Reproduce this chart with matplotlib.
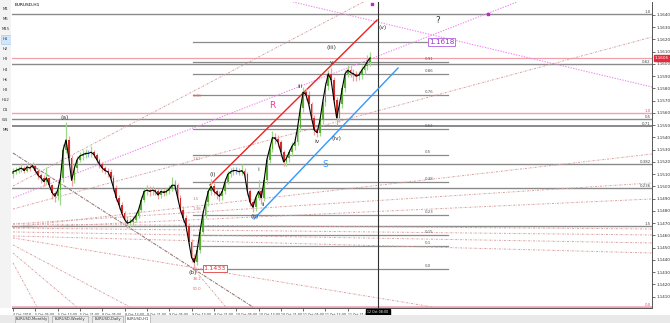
import matplotlib
matplotlib.use("Agg")
import matplotlib.pyplot as plt
import matplotlib.transforms as mtransforms

# ---------------- data ----------------
first_open = 1.1510
closes = [
    1.1512, 1.1513, 1.1514, 1.1515, 1.1513, 1.1516, 1.1515, 1.1517, 1.1513, 1.1509,
    1.1507, 1.1504, 1.1507, 1.1501, 1.1495, 1.1492, 1.1497, 1.1507, 1.1530, 1.1538,
    1.1523, 1.1505, 1.1515, 1.1522, 1.1525, 1.1526, 1.1527, 1.1527, 1.1528, 1.1526,
    1.1522, 1.1518, 1.1515, 1.1513, 1.1512, 1.1507, 1.1499, 1.1491, 1.1485, 1.1478,
    1.1473, 1.1470, 1.1471, 1.1473, 1.1476, 1.1481, 1.1489, 1.1496, 1.1497, 1.1496,
    1.1497, 1.1496, 1.1493, 1.1496, 1.1495, 1.1496, 1.1498, 1.1501, 1.1501, 1.1491,
    1.1481, 1.1474, 1.1468, 1.1455, 1.1442, 1.1438, 1.1448, 1.1463, 1.1477, 1.1487,
    1.1496, 1.1500, 1.1496, 1.1494, 1.1492, 1.1496, 1.1504, 1.1510, 1.1512, 1.1513,
    1.1513, 1.1512, 1.1513, 1.1510, 1.1496, 1.1487, 1.1483, 1.1491, 1.1496, 1.1491,
    1.1505, 1.1522, 1.1531, 1.1540, 1.1539, 1.1536, 1.1528, 1.1520, 1.1523, 1.1528,
    1.1533, 1.1536, 1.1548, 1.1564, 1.1577, 1.1575, 1.1567, 1.1556, 1.1546, 1.1544,
    1.1554, 1.1569, 1.1582, 1.1592, 1.1587, 1.1571, 1.1556, 1.1567, 1.1580, 1.1592,
    1.1595, 1.1593, 1.1592, 1.1590, 1.1591, 1.1595, 1.1598, 1.1602, 1.1605]
highs = [
    1.1515, 1.1516, 1.1517, 1.1519, 1.1517, 1.1519, 1.1518, 1.1520, 1.1518, 1.1514,
    1.1511, 1.1509, 1.1516, 1.1508, 1.1502, 1.1496, 1.1499, 1.1510, 1.1535, 1.1553,
    1.1541, 1.1526, 1.1518, 1.1525, 1.1528, 1.1530, 1.1531, 1.1530, 1.1533, 1.1530,
    1.1527, 1.1523, 1.1520, 1.1517, 1.1515, 1.1514, 1.1509, 1.1501, 1.1493, 1.1487,
    1.1480, 1.1476, 1.1474, 1.1476, 1.1479, 1.1484, 1.1492, 1.1499, 1.1501, 1.1500,
    1.1500, 1.1499, 1.1498, 1.1499, 1.1498, 1.1499, 1.1501, 1.1508, 1.1505, 1.1503,
    1.1493, 1.1484, 1.1477, 1.1470, 1.1457, 1.1445, 1.1451, 1.1466, 1.1480, 1.1490,
    1.1499, 1.1506, 1.1503, 1.1498, 1.1496, 1.1499, 1.1507, 1.1513, 1.1515, 1.1516,
    1.1516, 1.1515, 1.1518, 1.1515, 1.1512, 1.1498, 1.1489, 1.1494, 1.1505, 1.1498,
    1.1508, 1.1525, 1.1534, 1.1545, 1.1544, 1.1542, 1.1538, 1.1530, 1.1526, 1.1531,
    1.1536, 1.1540, 1.1551, 1.1567, 1.1581, 1.1580, 1.1578, 1.1569, 1.1558, 1.1548,
    1.1557, 1.1572, 1.1585, 1.1595, 1.1597, 1.1589, 1.1573, 1.1570, 1.1583, 1.1595,
    1.1599, 1.1598, 1.1596, 1.1594, 1.1594, 1.1598, 1.1601, 1.1607, 1.1610]
lows = [
    1.1507, 1.1510, 1.1511, 1.1512, 1.1511, 1.1512, 1.1513, 1.1514, 1.1511, 1.1506,
    1.1503, 1.1500, 1.1502, 1.1498, 1.1490, 1.1487, 1.1489, 1.1485, 1.1504, 1.1527,
    1.1519, 1.1500, 1.1503, 1.1512, 1.1520, 1.1522, 1.1523, 1.1524, 1.1524, 1.1523,
    1.1519, 1.1515, 1.1512, 1.1510, 1.1508, 1.1504, 1.1496, 1.1488, 1.1482, 1.1475,
    1.1469, 1.1466, 1.1467, 1.1468, 1.1471, 1.1474, 1.1479, 1.1487, 1.1493, 1.1492,
    1.1493, 1.1493, 1.1490, 1.1491, 1.1492, 1.1493, 1.1494, 1.1496, 1.1497, 1.1488,
    1.1478, 1.1471, 1.1464, 1.1452, 1.1438, 1.1433, 1.1436, 1.1446, 1.1461, 1.1474,
    1.1484, 1.1493, 1.1493, 1.1490, 1.1488, 1.1489, 1.1494, 1.1502, 1.1508, 1.1509,
    1.1510, 1.1509, 1.1509, 1.1507, 1.1493, 1.1484, 1.1479, 1.1480, 1.1489, 1.1486,
    1.1488, 1.1502, 1.1519, 1.1528, 1.1535, 1.1532, 1.1524, 1.1517, 1.1517, 1.1520,
    1.1525, 1.1530, 1.1534, 1.1546, 1.1561, 1.1571, 1.1563, 1.1552, 1.1542, 1.1540,
    1.1541, 1.1551, 1.1566, 1.1579, 1.1583, 1.1567, 1.1550, 1.1553, 1.1564, 1.1577,
    1.1589, 1.1589, 1.1586, 1.1586, 1.1587, 1.1588, 1.1592, 1.1595, 1.1598]

time_labels = ["4 Oct 2018", "5 Oct 05:00", "5 Oct 13:00", "5 Oct 21:00",
               "8 Oct 05:00", "8 Oct 13:00", "8 Oct 21:00", "9 Oct 05:00",
               "9 Oct 13:00", "9 Oct 21:00", "10 Oct 05:00", "10 Oct 13:00",
               "10 Oct 21:00", "11 Oct 05:00", "11 Oct 13:00", "11 Oct 21:00"]
bars_per_label = 8
cursor_bar = 130.8
cursor_label = "12 Oct 08:00"

price_ticks = [1.1410, 1.1420, 1.1430, 1.1440, 1.1450, 1.1460, 1.1470, 1.1480,
               1.1490, 1.1500, 1.1510, 1.1520, 1.1530, 1.1540, 1.1550, 1.1560,
               1.1570, 1.1580, 1.1590, 1.1600, 1.1610, 1.1620, 1.1630, 1.1640]

# full-width grey levels and their labels
grey_levels = [1.16408, 1.16000, 1.15551, 1.15494, 1.15184, 1.14988, 1.14678]
grey_labels = ["1.0", "0.62", "0.5", "0.71", "0.382", "0.236", "1.5"]
pink_levels = [1.15600, 1.14016]
pink_labels = ["1.0", "0.0"]

# fibo from (b) low to target
fib_low, fib_high = 1.1433, 1.1618
fib_ratios = [0.0, 0.1, 0.15, 0.236, 0.382, 0.5, 0.618, 0.764, 0.86, 0.91, 1.0]
fib_texts = ["0.0", "0.1", "0.15", "0.23", "0.38", "0.5", "0.62", "0.76", "0.86", "0.91", ""]
fib_start_bar, fib_end_bar = 64.5, 156.0

# channel lines (bar0, price0, bar1, price1)
r_line = (70.6, 1.15012, 130.5, 1.16359)
s_line = (86.4, 1.14735, 138.0, 1.15967)

# dotted tool lines (bar0, price0, bar1, price1)
violet_lines = [(0.0, 1.14906, 180.6, 1.16506), (97.5, 1.16522, 229.0, 1.15812)]
rose_lines = [(0.0, 1.15004, 126.9, 1.16522), (0.0, 1.14816, 229.0, 1.16220),
              (0.0, 1.14580, 150.5, 1.14016),
              (0.0, 1.14669, 229.0, 1.15265), (0.0, 1.14694, 229.0, 1.15029),
              (0.0, 1.14661, 229.0, 1.14898), (0.0, 1.14694, 229.0, 1.14653),
              (0.0, 1.14661, 229.0, 1.14604), (0.0, 1.14629, 229.0, 1.14539),
              (0.0, 1.14596, 229.0, 1.14457),
              (0.0, 1.14523, 41.9, 1.14016), (0.0, 1.14457, 22.9, 1.14016),
              (0.0, 1.14376, 8.6, 1.14016), (64.5, 1.14335, 76.3, 1.14016)]
dark_lines = [(0.0, 1.15273, 86.0, 1.14016)]

wave_labels = ["(a)", "(b)", "(i)", "(ii)", "i", "ii", "iii", "iv", "v",
               "(iii)", "(iv)", "(v)"]
wave_bars = [18.6, 64.5, 71.7, 86.7, 87.8, 89.6, 102.9, 109.0, 114.0, 114.0, 116.1, 132.6]
wave_prices = [1.15567, 1.14294, 1.15094, 1.14751, 1.15135, 1.14849, 1.15820,
               1.15371, 1.16016, 1.16131, 1.15388, 1.16294]

fan_texts = ["1.62", "1.5", "1.38", "38.2", "50.0", "1.38"]
fan_bars = [64.2, 64.2, 64.5, 64.5, 64.5, 64.5]
fan_prices = [1.15225, 1.14898, 1.14816, 1.14245, 1.14163, 1.15735]

markers_bar = [170.3, 128.7]
markers_price = [1.16408, 1.16490]

timeframes = ["M1", "M5", "M15", "H1", "H2", "H3", "H4", "H6", "H8", "H12", "D1", "W1", "MN"]
tabs = ["EURUSD,Monthly", "EURUSD,Weekly", "EURUSD,Daily", "EURUSD,H1"]

# ---------------- figure ----------------
W, H = 670, 323
fig = plt.figure(figsize=(W / 100, H / 100), dpi=100)
fig.patch.set_facecolor("white")
ax = fig.add_axes([12 / W, 15 / H, 640 / W, 306 / H])
ax.set_xlim(-0.36, 229.03)
ax.set_ylim(1.14008, 1.16506)
ax.set_facecolor("white")

n = len(closes)
opens = [first_open] + closes[:-1]
xs = list(range(n))

# horizontal levels
for lv, lb in zip(grey_levels, grey_labels):
    ax.axhline(lv, color="#8a8a8a", lw=1.0 if lb != "0.71" else 1.4, zorder=1)
    ax.text(228.6, lv, lb, fontsize=2.8, color="#444444", ha="right", va="bottom", zorder=5)
for lv, lb in zip(pink_levels, pink_labels):
    ax.axhline(lv, color="#f2a0b0", lw=1.0 if lb != "0.0" else 1.8, zorder=1)
    ax.text(228.6, lv, lb, fontsize=2.8, color="#e05070", ha="right", va="bottom", zorder=5)
ax.axhline(closes[-1], color="#f0a0a8", lw=0.9, zorder=1)

for r, t in zip(fib_ratios, fib_texts):
    p = fib_low + r * (fib_high - fib_low)
    ax.plot([fib_start_bar, fib_end_bar], [p, p], color="#8a8a8a", lw=0.9, zorder=1)
    if t:
        ax.text(fib_end_bar - 8.5, p + 0.00008, t, fontsize=2.8, color="#555555",
                ha="left", va="bottom", zorder=5)

# dotted tool lines
for b0, p0, b1, p1 in violet_lines:
    ax.plot([b0, b1], [p0, p1], color="#f08af0", lw=0.8, ls=(0, (1.2, 1.2)), zorder=1)
for b0, p0, b1, p1 in rose_lines:
    ax.plot([b0, b1], [p0, p1], color="#d8a0a0", lw=0.7, ls=(0, (2, 1.2, 0.6, 1.2)), zorder=1)
for b0, p0, b1, p1 in dark_lines:
    ax.plot([b0, b1], [p0, p1], color="#9a7a7a", lw=0.8, ls=(0, (3, 1, 1, 1)), zorder=1)

# channel
ax.plot([r_line[0], r_line[2]], [r_line[1], r_line[3]], color="#ee2222", lw=1.0, zorder=3)
ax.plot([s_line[0], s_line[2]], [s_line[1], s_line[3]], color="#3399ff", lw=1.0, zorder=3)

# cursor line
ax.axvline(cursor_bar, color="#303030", lw=0.8, zorder=2)

# candles
for i in xs:
    o, c, h, l = opens[i], closes[i], highs[i], lows[i]
    if c > o:
        body, wick = "#55b030", "#9fd88a"
    elif c < o:
        body, wick = "#d42a2a", "#f0a0a0"
    else:
        body, wick = "#4a6cf0", "#8fa8f8"
    ax.vlines(i, l, h, color=wick, lw=0.9, zorder=4)
    ax.bar(i, max(abs(c - o), 0.00005), bottom=min(o, c), width=0.62,
           color=body, linewidth=0, zorder=5)
ax.plot(xs, closes, color="black", lw=0.8, zorder=6)

# wave labels
for t, b, p in zip(wave_labels, wave_bars, wave_prices):
    ax.text(b, p, t, fontsize=4.3, color="#333333", ha="center", va="center", zorder=7)
for t, b, p in zip(fan_texts, fan_bars, fan_prices):
    ax.text(b, p, t, fontsize=2.8, color="#d07070", ha="left", va="center", zorder=7)

ax.text(92.8, 1.15665, "R", fontsize=6.5, color="#ff3399", ha="center", va="center", zorder=7)
ax.text(111.8, 1.15176, "S", fontsize=6.5, color="#3399ff", ha="center", va="center", zorder=7)
ax.text(152.3, 1.16351, "?", fontsize=6.5, color="#333333", ha="center", va="center", zorder=7)

ax.text(149.0, fib_high, "1.1618", fontsize=5.2, color="#9933cc", ha="left", va="center",
        zorder=8, bbox=dict(boxstyle="square,pad=0.15", fc="white", ec="#b060e0", lw=0.6))
ax.text(68.3, fib_low, "1.1433", fontsize=4.6, color="#e03030", ha="left", va="center",
        zorder=8, bbox=dict(boxstyle="square,pad=0.15", fc="white", ec="#e04040", lw=0.6))
ax.scatter(markers_bar, markers_price, marker="s", s=3, color="#cc22cc", zorder=8)

# axes / ticks
for sp in ["top", "left"]:
    ax.spines[sp].set_visible(False)
for sp in ["right", "bottom"]:
    ax.spines[sp].set_color("#555555")
    ax.spines[sp].set_linewidth(0.7)
ax.yaxis.tick_right()
ax.set_yticks(price_ticks)
ax.set_yticklabels([f"{p:.4f}" for p in price_ticks])
ax.tick_params(axis="y", length=2, width=0.5, pad=1, labelsize=3, colors="#333333")
ax.set_xticks([k * bars_per_label for k in range(len(time_labels))])
ax.set_xticklabels(time_labels, ha="left")
ax.tick_params(axis="x", length=2, width=0.5, pad=1.5, labelsize=2.3, colors="#333333")

# current price tag
trans = mtransforms.blended_transform_factory(ax.transAxes, ax.transData)
ax.text(1.004, closes[-1], f"{closes[-1]:.4f}", transform=trans, fontsize=3, color="white",
        ha="left", va="center", zorder=9, clip_on=False,
        bbox=dict(boxstyle="square,pad=0.25", fc="#e8283c", ec="#e8283c"))
transx = mtransforms.blended_transform_factory(ax.transData, ax.transAxes)
ax.text(cursor_bar, -0.014, cursor_label, transform=transx, fontsize=2.3, color="white",
        ha="center", va="center", zorder=9, clip_on=False,
        bbox=dict(boxstyle="square,pad=0.3", fc="black", ec="black"))

# title
fig.text(15 / W, 1 - 5.5 / H, "EURUSD,H1", fontsize=3.2, color="black", ha="left", va="center")

# left sidebar
side = fig.add_axes([0, 15 / H, 11 / W, 308 / H])
side.set_xlim(0, 11)
side.set_ylim(308, 0)
side.axis("off")
side.add_patch(plt.Rectangle((0, 0), 11, 308, fc="#f3f3f3", ec="none"))
for k, tf in enumerate(timeframes):
    y = 9 + 10.1 * k
    if tf == "H1":
        side.add_patch(plt.Rectangle((0.5, y - 4.5), 10, 9, fc="#cfe6fb", ec="#9cc8ef", lw=0.4))
    side.text(5.5, y, tf, fontsize=2.8, color="#333333", ha="center", va="center")

# bottom tab bar
tabax = fig.add_axes([0, 0, 1, 8 / H])
tabax.set_xlim(0, W)
tabax.set_ylim(8, 0)
tabax.axis("off")
tabax.add_patch(plt.Rectangle((0, 0), W, 8, fc="#e9e9e9", ec="none"))
tab_edges = [(15, 48), (52, 88), (92, 123), (125, 150)]
for (a, b), t in zip(tab_edges, tabs):
    active = t == "EURUSD,H1"
    tabax.add_patch(plt.Rectangle((a, 0.3 if active else 1), b - a, 7.5,
                                  fc="white" if active else "#ececec",
                                  ec="#9a9a9a", lw=0.4))
    tabax.text((a + b) / 2, 4.2, t, fontsize=2.7, color="#333333", ha="center", va="center")

fig.savefig("out.png", dpi=100, facecolor="white")
